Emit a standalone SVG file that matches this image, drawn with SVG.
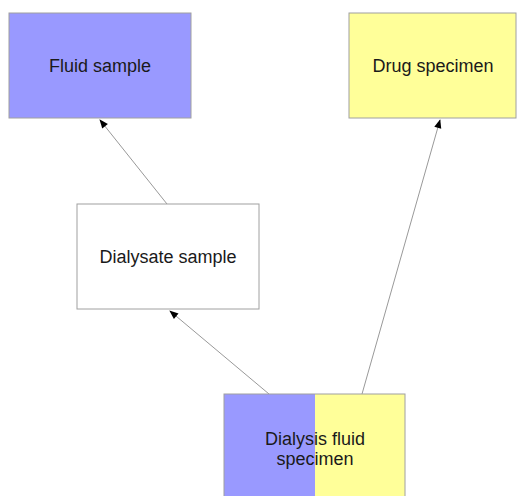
<svg xmlns="http://www.w3.org/2000/svg" width="520" height="496" viewBox="0 0 520 496">
<style>
.box{stroke:#a0a0a0;stroke-width:1}
.blue{fill:#9999ff}
.yellow{fill:#ffff99}
.white{fill:#ffffff}
text{font-family:"Liberation Sans",Arial,sans-serif;font-size:18px;fill:#1a1a1a;text-anchor:middle}
.edge{stroke:#999999;stroke-width:1;fill:none;marker-end:url(#arr)}
</style>
<defs>
<marker id="arr" viewBox="0 0 10 10" refX="9" refY="5" markerWidth="10" markerHeight="9" markerUnits="userSpaceOnUse" orient="auto">
<path d="M0,1 L10,5 L0,9 z" fill="#000"/>
</marker>
</defs>
<rect width="520" height="496" fill="#fff"/>
<g id="connectors">
<line class="edge" x1="167" y1="204" x2="100" y2="120"/>
<line class="edge" x1="362" y1="394" x2="440" y2="120"/>
<line class="edge" x1="269" y1="394" x2="170" y2="311"/>
</g>
<g id="fluid-sample">
<rect class="box blue" x="9" y="13" width="182" height="105" stroke="#8080cc"/>
<text x="100" y="72">Fluid sample</text>
</g>
<g id="drug-specimen">
<rect class="box yellow" x="349" y="13" width="167" height="105"/>
<text x="433" y="72">Drug specimen</text>
</g>
<g id="dialysate-sample">
<rect class="box white" x="77" y="204" width="182" height="105"/>
<text x="168" y="263">Dialysate sample</text>
</g>
<g id="dialysis-fluid-specimen">
<rect class="blue" x="224" y="394" width="91" height="110"/>
<rect class="yellow" x="315" y="394" width="90" height="110"/>
<rect class="box" x="224" y="394" width="181" height="110" fill="none"/>
<text x="315" y="445">Dialysis fluid</text>
<text x="315" y="465">specimen</text>
</g>
</svg>
